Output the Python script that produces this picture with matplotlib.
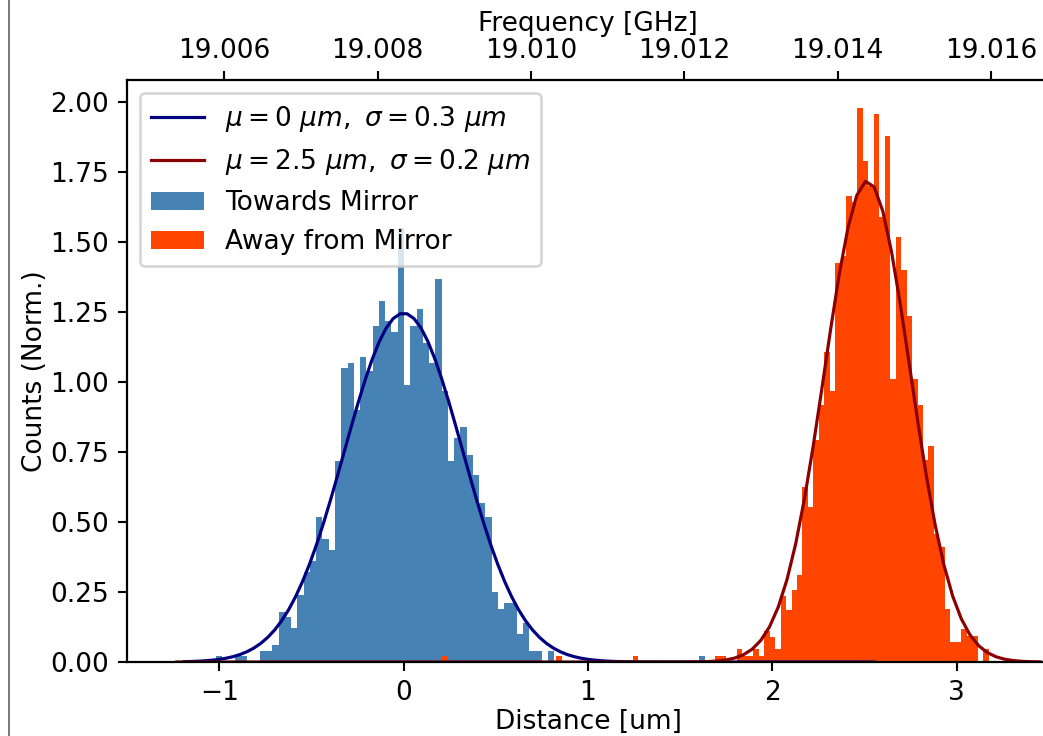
import numpy as np
import matplotlib
matplotlib.use("Agg")
import matplotlib.pyplot as plt
from matplotlib.lines import Line2D
from matplotlib.ticker import FormatStrFormatter

# histogram ranges in um (100 bins each)
towards_range = (-1.018, 2.382)
away_range = (0.203, 3.173)

# normalised counts per bin
towards_counts = [
    0.02, 0, 0, 0.02, 0.02, 0, 0, 0.04, 0.04, 0.06,
    0.18, 0.16, 0.12, 0.24, 0.32, 0.36, 0.52, 0.44, 0.40, 0.72,
    1.05, 1.07, 0.90, 1.09, 1.04, 1.20, 1.29, 1.22, 1.18, 1.55,
    0.99, 1.20, 1.26, 1.14, 1.07, 1.37, 0.97, 0.72, 0.80, 0.84,
    0.74, 0.67, 0.57, 0.52, 0.25, 0.19, 0.21, 0.21, 0.10, 0.14,
    0.04, 0.04, 0, 0.04, 0, 0, 0, 0, 0, 0,
    0, 0, 0, 0, 0, 0, 0, 0, 0, 0,
    0, 0, 0, 0, 0, 0, 0, 0.02, 0, 0,
    0, 0, 0, 0, 0, 0, 0, 0, 0, 0,
    0, 0, 0, 0, 0, 0, 0, 0, 0, 0,
]
away_counts = [
    0.022, 0, 0, 0, 0, 0, 0, 0, 0, 0,
    0, 0, 0, 0, 0, 0, 0, 0, 0, 0,
    0, 0.022, 0, 0, 0, 0, 0, 0, 0, 0,
    0, 0, 0, 0, 0, 0.022, 0, 0, 0, 0,
    0, 0, 0, 0, 0, 0, 0, 0, 0, 0,
    0.022, 0.022, 0, 0, 0.045, 0.022, 0.022, 0.045, 0.022, 0.112,
    0.09, 0.045, 0.236, 0.185, 0.257, 0.31, 0.627, 0.555, 0.794, 0.918,
    1.108, 0.969, 1.425, 1.45, 1.667, 1.644, 1.98, 1.79, 1.70, 1.96,
    1.59, 1.88, 1.013, 1.518, 1.40, 1.235, 1.013, 0.918, 0.723, 0.771,
    0.456, 0.412, 0.189, 0.072, 0.072, 0.119, 0.094, 0.094, 0, 0.045,
]

# gaussian fits
towards_mu, towards_sigma = 0.0, 0.32
away_mu, away_sigma = 2.515, 0.232
towards_label = r'$\mu = 0\ \mu m,\ \sigma = 0.3\ \mu m$'
away_label = r'$\mu = 2.5\ \mu m,\ \sigma = 0.2\ \mu m$'
hist_labels = ['Towards Mirror', 'Away from Mirror']

# distance -> frequency conversion for the top axis
freq_at_zero = 19.00834   # GHz
ghz_per_um = 0.002405
freq_ticks = [19.006, 19.008, 19.010, 19.012, 19.014, 19.016]


def gauss(x, mu, sigma):
    return np.exp(-(x - mu) ** 2 / (2 * sigma ** 2)) / (sigma * np.sqrt(2 * np.pi))


dpi = 190
fig = plt.figure(figsize=(1043 / dpi, 736 / dpi), dpi=dpi)
ax = fig.add_axes([127 / 1043, 74 / 736, 922 / 1043, 582 / 736])

# histograms
t_edges = np.linspace(towards_range[0], towards_range[1], len(towards_counts) + 1)
a_edges = np.linspace(away_range[0], away_range[1], len(away_counts) + 1)
t_centers = 0.5 * (t_edges[:-1] + t_edges[1:])
a_centers = 0.5 * (a_edges[:-1] + a_edges[1:])

_, _, t_bars = ax.hist(t_centers, bins=t_edges, weights=towards_counts,
                       color='steelblue')
_, _, a_bars = ax.hist(a_centers, bins=a_edges, weights=away_counts,
                       color='orangered')

# fit curves
xt = np.linspace(-1.19, 2.55, 100)
xa = np.linspace(-1.23, 3.45, 100)
t_line, = ax.plot(xt, gauss(xt, towards_mu, towards_sigma), color='navy', lw=1.2)
a_line, = ax.plot(xa, gauss(xa, away_mu, away_sigma), color='darkred', lw=1.2)

ax.set_xlim(-1.5, 3.5)
ax.set_ylim(0, 2.08)
ax.set_xlabel('Distance [um]', labelpad=1)
ax.set_ylabel('Counts (Norm.)', labelpad=0.5)
ax.legend([t_line, a_line, t_bars[0], a_bars[0]],
          [towards_label, away_label] + hist_labels, loc='upper left')

# top axis in frequency
ax2 = ax.twiny()
ax2.set_xlim(freq_at_zero - 1.5 * ghz_per_um, freq_at_zero + 3.5 * ghz_per_um)
ax2.set_xticks(freq_ticks)
ax2.xaxis.set_major_formatter(FormatStrFormatter('%.3f'))
ax2.tick_params(axis='x', pad=2.7)
ax2.set_xlabel('Frequency [GHz]', labelpad=2.5)

# thin border line seen at the left of the picture
fig.add_artist(Line2D([9 / 1043, 9 / 1043], [0, 1], transform=fig.transFigure,
                      color='0.35', lw=0.6))

fig.savefig('out.png', dpi=dpi)
